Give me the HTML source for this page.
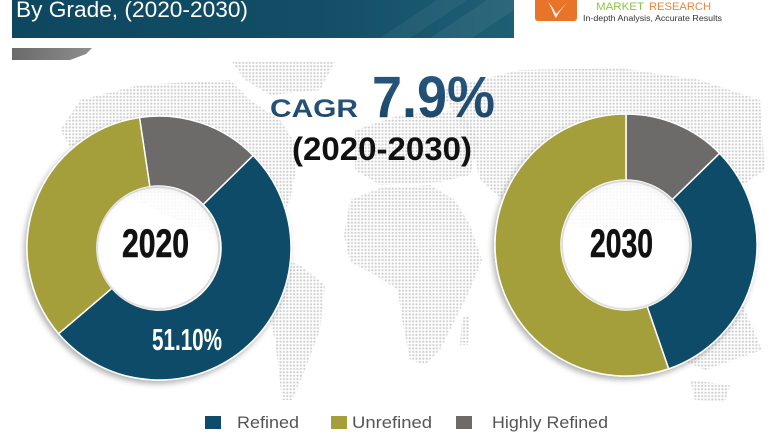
<!DOCTYPE html>
<html><head><meta charset="utf-8">
<style>
html,body{margin:0;padding:0;background:#fff;}
svg{display:block;}
text{font-family:"Liberation Sans",sans-serif;}
</style></head>
<body>
<svg width="780" height="440" viewBox="0 0 780 440" xmlns="http://www.w3.org/2000/svg">
<defs>
  <pattern id="dots" width="3.4" height="3.4" patternUnits="userSpaceOnUse">
    <circle cx="1.7" cy="1.7" r="1.15" fill="#cbcbcb"/>
  </pattern>
  <linearGradient id="hdr" x1="0" y1="0" x2="1" y2="0">
    <stop offset="0" stop-color="#0e4760"/>
    <stop offset="0.6" stop-color="#124e66"/>
    <stop offset="1" stop-color="#1f5f74"/>
  </linearGradient>
  <linearGradient id="gshape" x1="0" y1="0" x2="1" y2="0">
    <stop offset="0" stop-color="#6a6a6a"/>
    <stop offset="1" stop-color="#8e8e8e"/>
  </linearGradient>
  <linearGradient id="cagr" x1="0" y1="0" x2="0" y2="1">
    <stop offset="0" stop-color="#2a5a80"/>
    <stop offset="1" stop-color="#1a4465"/>
  </linearGradient>
  <filter id="sh" x="-20%" y="-20%" width="140%" height="140%">
    <feDropShadow dx="-2" dy="3" stdDeviation="3" flood-color="#000" flood-opacity="0.3"/>
  </filter>
</defs>

<!-- dotted world map -->
<g fill="url(#dots)" opacity="0.9">
  <polygon points="80,100 140,85 230,80 250,100 280,120 300,150 290,200 270,240 250,250 200,230 90,180 60,130"/>
  <polygon points="232,62 335,62 320,90 270,95 245,80"/>
  <polygon points="265,255 300,265 325,285 320,330 305,370 292,400 282,400 275,340 262,290"/>
  <polygon points="355,130 400,115 460,110 480,140 470,175 440,182 380,185 355,170"/>
  <polygon points="350,200 380,188 430,185 455,200 470,225 482,260 470,290 455,320 440,350 425,365 410,360 402,320 398,290 375,275 350,262 344,235"/>
  <polygon points="462,318 470,315 468,345 460,345"/>
  <polygon points="440,90 520,70 620,68 700,80 760,100 765,170 720,200 680,220 600,230 520,215 480,180 470,140"/>
  <polygon points="665,300 740,298 762,350 705,370 665,352"/>
  <polygon points="690,380 730,385 725,402 695,400"/>
</g>

<!-- header bar -->
<rect x="12" y="-2" width="502" height="40" fill="url(#hdr)"/>
<polygon points="380,38 440,-2 470,-2 410,38" fill="#ffffff" opacity="0.05"/>
<polygon points="430,38 490,-2 514,-2 514,10 472,38" fill="#ffffff" opacity="0.06"/>
<text x="16" y="17" font-size="22" fill="#ffffff" textLength="232" lengthAdjust="spacingAndGlyphs">By Grade, (2020-2030)</text>
<polygon points="12,48 92,48 86,54 70,60 12,60" fill="url(#gshape)"/>

<!-- logo -->
<rect x="535" y="-4" width="42" height="25" rx="3" fill="#e8742a"/>
<path d="M548,2 C552,8 553,14 556,18 C560,10 566,4 570,0 C564,6 559,11 556,14 C554,9 551,5 548,2Z" fill="#ffffff" opacity="0.9"/>
<text x="596" y="10" font-size="11" fill="#8cc63f" textLength="48" lengthAdjust="spacingAndGlyphs">MARKET</text>
<text x="649" y="10" font-size="11" fill="#e8863a" textLength="62" lengthAdjust="spacingAndGlyphs">RESEARCH</text>
<text x="583" y="21" font-size="8.5" fill="#333" textLength="139" lengthAdjust="spacingAndGlyphs">In-depth Analysis, Accurate Results</text>

<!-- CAGR -->
<text x="270" y="117" font-size="25" font-weight="bold" fill="url(#cagr)" textLength="88" lengthAdjust="spacingAndGlyphs">CAGR</text>
<text x="372" y="117" font-size="58" font-weight="bold" fill="url(#cagr)" textLength="123" lengthAdjust="spacingAndGlyphs">7.9%</text>
<text x="292" y="160" font-size="32" font-weight="bold" fill="#111" textLength="180" lengthAdjust="spacingAndGlyphs">(2020-2030)</text>

<!-- Donut 2020 -->
<g filter="url(#sh)" stroke="#ffffff" stroke-width="1.5" stroke-linejoin="round">
  <path d="M139.49,117.45 A132,132 0 0 1 253.16,155.48 L203.22,204.54 A62,62 0 0 0 149.84,186.68 Z" fill="#6d6b6a"/>
  <path d="M253.16,155.48 A132,132 0 1 1 58.63,333.72 L111.86,288.26 A62,62 0 1 0 203.22,204.54 Z" fill="#0f4c69"/>
  <path d="M58.63,333.72 A132,132 0 0 1 139.49,117.45 L149.84,186.68 A62,62 0 0 0 111.86,288.26 Z" fill="#a59f3b"/>
</g>
<circle cx="158" cy="248" r="61" fill="#ffffff" opacity="0.85" stroke="#dcdcdc" stroke-width="2"/>
<text x="122" y="257" font-size="40" font-weight="bold" fill="#111" stroke="#111" stroke-width="0.6" style="font-family:'Liberation Sans Narrow','Liberation Sans',sans-serif" textLength="67" lengthAdjust="spacingAndGlyphs">2020</text>
<text x="152" y="350" font-size="31" font-weight="bold" fill="#ffffff" style="font-family:'Liberation Sans Narrow','Liberation Sans',sans-serif" textLength="70" lengthAdjust="spacingAndGlyphs">51.10%</text>

<!-- Donut 2030 -->
<g filter="url(#sh)" stroke="#ffffff" stroke-width="1.5" stroke-linejoin="round">
  <path d="M626,114 A131,131 0 0 1 719.60,153.34 L672.44,199.52 A65,65 0 0 0 626,180 Z" fill="#6d6b6a"/>
  <path d="M719.60,153.34 A131,131 0 0 1 668.65,368.86 L647.16,306.46 A65,65 0 0 0 672.44,199.52 Z" fill="#0f4c69"/>
  <path d="M668.65,368.86 A131,131 0 1 1 626,114 L626,180 A65,65 0 1 0 647.16,306.46 Z" fill="#a59f3b"/>
</g>
<circle cx="626" cy="245" r="64" fill="#ffffff" opacity="0.85" stroke="#dcdcdc" stroke-width="2"/>
<text x="590" y="257" font-size="40" font-weight="bold" fill="#111" stroke="#111" stroke-width="0.6" style="font-family:'Liberation Sans Narrow','Liberation Sans',sans-serif" textLength="63" lengthAdjust="spacingAndGlyphs">2030</text>

<!-- Legend -->
<rect x="205" y="416" width="16" height="13" fill="#0f4c69"/>
<text x="237" y="428" font-size="17" fill="#555" textLength="62" lengthAdjust="spacingAndGlyphs">Refined</text>
<rect x="331" y="416" width="16" height="13" fill="#a59f3b"/>
<text x="352" y="428" font-size="17" fill="#555" textLength="80" lengthAdjust="spacingAndGlyphs">Unrefined</text>
<rect x="456" y="416" width="16" height="13" fill="#6d6b6a"/>
<text x="492" y="428" font-size="17" fill="#555" textLength="116" lengthAdjust="spacingAndGlyphs">Highly Refined</text>
</svg>
</body></html>
